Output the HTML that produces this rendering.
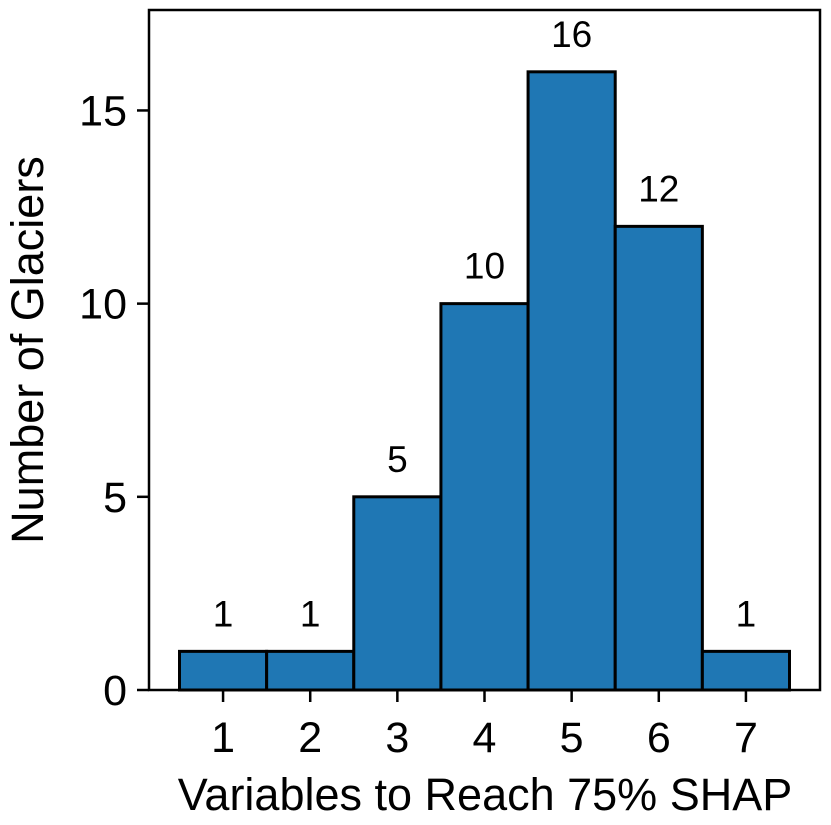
<!DOCTYPE html>
<html><head><meta charset="utf-8"><style>
html,body{margin:0;padding:0;background:#fff;}
svg text{font-family:"Liberation Sans",Arial,sans-serif;fill:#000;}
</style></head><body>
<svg id="chart" width="831" height="820" xmlns="http://www.w3.org/2000/svg">
<g id="bars"></g>
<g id="axes"></g>
<text x="485" y="810" font-size="45" text-anchor="middle">Variables to Reach 75% SHAP</text>
<text transform="translate(43,350) rotate(-90)" font-size="45" text-anchor="middle">Number of Glaciers</text>
</svg>
<script>
const categories=[1,2,3,4,5,6,7];
const counts=[1,1,5,10,16,12,1];
const yTicks=[0,5,10,15];
const L=149,R=820,T=10,B=690;
const xmin=0.15,xmax=7.85,ymax=17.6;
const sx=v=>L+(v-xmin)/(xmax-xmin)*(R-L);
const sy=v=>B-v/ymax*(B-T);
const ns="http://www.w3.org/2000/svg";
const bars=document.getElementById('bars'),axes=document.getElementById('axes');
function mk(tag,attrs,parent){const e=document.createElementNS(ns,tag);for(const k in attrs)e.setAttribute(k,attrs[k]);parent.appendChild(e);return e;}
categories.forEach((c,i)=>{
  const r=mk('rect',{x:sx(c-0.5),y:sy(counts[i]),width:sx(c+0.5)-sx(c-0.5),height:sy(0)-sy(counts[i]),fill:'#1f77b4',stroke:'#000','stroke-width':3},bars);
  
  
  const t=mk('text',{x:sx(c),y:sy(counts[i])-25,'font-size':37,'text-anchor':'middle'},bars);
  t.textContent=counts[i];
  
  
  const tk=mk('line',{x1:sx(c),x2:sx(c),y1:B,y2:B+12,stroke:'#000','stroke-width':2.5},axes);
  
  
  const tl=mk('text',{x:sx(c),y:B+62,'font-size':43,'text-anchor':'middle'},axes);
  tl.textContent=c;
  
  
});
yTicks.forEach(v=>{
  const tk=mk('line',{x1:L-12,x2:L,y1:sy(v),y2:sy(v),stroke:'#000','stroke-width':2.5},axes);
  
  
  const tl=mk('text',{x:L-22,y:sy(v)+15,'font-size':43,'text-anchor':'end'},axes);
  tl.textContent=v;
  
  
});
const fr=mk('rect',{x:L,y:T,width:R-L,height:B-T,fill:'none',stroke:'#000','stroke-width':2.5},axes);


</script>
</body></html>
